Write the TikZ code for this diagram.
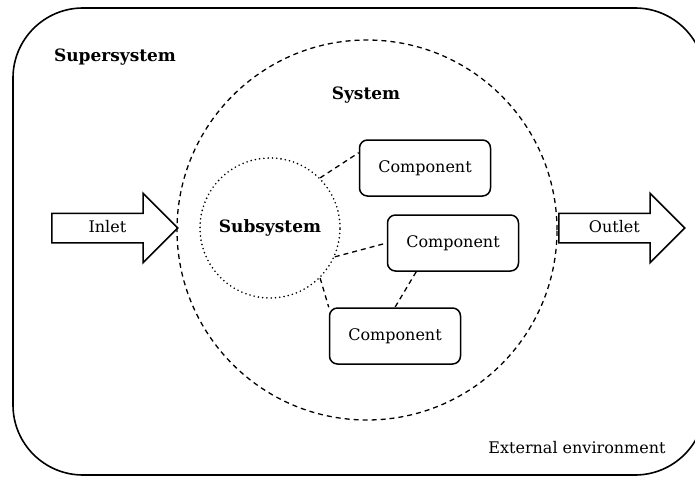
\documentclass[tikz,border=0pt]{standalone}
\usepackage{fontspec}
\setmainfont{DejaVu Serif}
\usetikzlibrary{shapes.arrows,positioning}

\tikzset{
	comp/.style={draw, line width=1.5pt, rounded corners=8pt, minimum width=131pt, minimum height=56pt},
	flow/.style={single arrow, draw, line width=1.5pt, minimum height=126pt,
		single arrow head extend=20pt, inner ysep=7pt, text height=11pt, text depth=3pt},
	link/.style={line width=1.3pt, dash pattern=on 5pt off 4pt},
	label/.style={font=\fontsize{17}{20}\selectfont\bfseries},
}

\begin{document}
\begin{tikzpicture}[x=1pt, y=-1pt, font=\fontsize{16}{19}\selectfont]
	\useasboundingbox (0,0) rectangle (695,476);
	\clip (0,0) rectangle (695,476);

	% supersystem frame
	\draw[line width=1.6pt, rounded corners=70pt] (13,8) rectangle (705,475);
	\node[label] (supertxt) at (115,57) {Supersystem};
	\node (envtxt) at (577,448) {External environment};

	% system and subsystem
	\node[circle, draw, link, minimum size=380pt, inner sep=0pt] (system) at (367,230) {};
	\node[label] (systxt) at (366,95) {System};
	\node[circle, draw, line width=1.8pt, line cap=round, dash pattern=on 0pt off 4.3pt,
		minimum size=140pt, inner sep=0pt, label] (sub) at (270,228) {Subsystem};

	\node[comp] (c1) at (425,168) {Component};
	\node[comp] (c2) at (453,243) {Component};
	\node[comp] (c3) at (395,336) {Component};

	\draw[link] (sub.45) -- (c1.167);
	\draw[link] (sub.-24) -- (c2.west);
	\draw[link] (sub.-45) -- (c3.north west);
	\draw[link] (c2.218) -- (c3.north);

	% flows in and out
	\node[flow, anchor=tail] (inlet) at (51,228) {Inlet};
	\node[flow, anchor=tail] (outlet) at (558,228) {Outlet};
\end{tikzpicture}
\end{document}
